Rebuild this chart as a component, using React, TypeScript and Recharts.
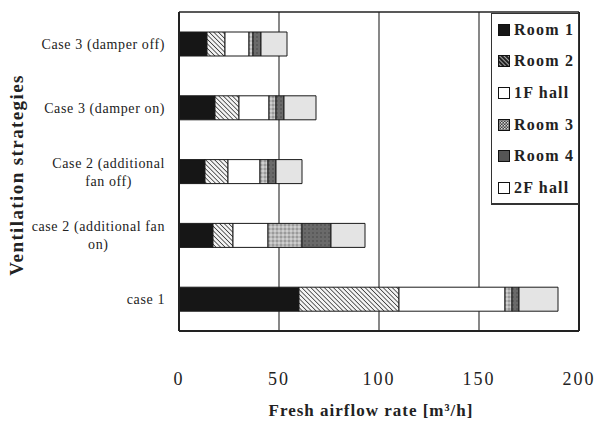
import { BarChart, Bar, XAxis, YAxis, CartesianGrid, Legend } from "recharts";

const categories = [
  ["Case 3 (damper off)"],
  ["Case 3 (damper on)"],
  ["Case 2 (additional", "fan off)"],
  ["case 2 (additional fan", "on)"],
  ["case 1"],
];
const room1 = [14, 18, 13, 17, 60];
const room2 = [9, 12, 11.5, 10, 50];
const hall1F = [12, 15, 16, 17.5, 53];
const room3 = [2, 3.5, 4, 17, 3.5];
const room4 = [4, 4, 4, 14.5, 3.5];
const hall2F = [13, 16, 13, 17, 19.5];
const xTicks = [0, 50, 100, 150, 200];

const SERIES = [
  { key: "room1", name: "Room 1", fill: "#161616" },
  { key: "room2", name: "Room 2", fill: "url(#hatch)" },
  { key: "hall1F", name: "1F hall", fill: "#ffffff" },
  { key: "room3", name: "Room 3", fill: "url(#dots)" },
  { key: "room4", name: "Room 4", fill: "url(#dark)" },
  { key: "hall2F", name: "2F hall", fill: "#e4e4e4" },
];

const data = categories.map((lines, i) => ({
  name: lines.join(" "),
  lines,
  room1: room1[i],
  room2: room2[i],
  hall1F: hall1F[i],
  room3: room3[i],
  room4: room4[i],
  hall2F: hall2F[i],
}));

const FONT = "'Liberation Serif', 'DejaVu Serif', serif";

let ctx: CanvasRenderingContext2D | null = null;
function textWidth(s: string, size: number, spacing: number) {
  if (!ctx) ctx = document.createElement("canvas").getContext("2d");
  if (!ctx) return s.length * size * 0.45;
  ctx.font = `${size}px 'Liberation Serif'`;
  return ctx.measureText(s).width + spacing * s.length;
}

function CategoryTick(props: any) {
  const { x, y, payload } = props;
  const row = data.find((d) => d.name === payload.value);
  const lines = row ? row.lines : [payload.value];
  const right = x - 6;
  if (lines.length === 1) {
    return (
      <text x={right} y={y + 5} textAnchor="end" fontFamily={FONT} fontSize={14} letterSpacing={0.6} fill="#222">
        {lines[0]}
      </text>
    );
  }
  const w = Math.max(...lines.map((l: string) => textWidth(l, 14, 0.6)));
  const cx = right - w / 2;
  return (
    <g>
      {lines.map((l: string, i: number) => (
        <text key={i} x={cx} y={y - 4 + i * 18} textAnchor="middle" fontFamily={FONT} fontSize={14} letterSpacing={0.6} fill="#222">
          {l}
        </text>
      ))}
    </g>
  );
}

function LegendIcon({ fill }: { fill: string }) {
  return (
    <svg width={12} height={12} style={{ marginRight: 4, flex: "none" }}>
      <defs>
        <pattern id="lhatch" width="3" height="3" patternUnits="userSpaceOnUse" patternTransform="rotate(-45)">
          <rect width="3" height="3" fill="#222" />
          <line x1="0" y1="0" x2="0" y2="3" stroke="#fff" strokeWidth="1.2" />
        </pattern>
        <pattern id="ldots" width="3" height="3" patternUnits="userSpaceOnUse">
          <rect width="3" height="3" fill="#444" />
          <rect width="1.5" height="1.5" fill="#ddd" />
          <rect x="1.5" y="1.5" width="1.5" height="1.5" fill="#bbb" />
        </pattern>
      </defs>
      <rect x={0.5} y={0.5} width={11} height={11} fill={fill} stroke="#111" strokeWidth={1} />
    </svg>
  );
}

const LEGEND_FILLS: Record<string, string> = {
  room1: "#161616",
  room2: "url(#lhatch)",
  hall1F: "#fff",
  room3: "url(#ldots)",
  room4: "#555",
  hall2F: "#fff",
};

function LegendBox() {
  return (
    <div
      style={{
        width: 88,
        height: 192,
        border: "1px solid #333",
        borderBottom: "2px solid #333",
        background: "#fff",
        boxSizing: "border-box",
        padding: "0 0 0 6px",
      }}
    >
      {SERIES.map((s) => (
        <div
          key={s.key}
          style={{
            display: "flex",
            alignItems: "center",
            height: 31.6,
            fontFamily: FONT,
            fontSize: 16,
            fontWeight: "bold",
            letterSpacing: 1.2,
            color: "#222",
            whiteSpace: "nowrap",
          }}
        >
          <LegendIcon fill={LEGEND_FILLS[s.key]} />
          {s.name}
        </div>
      ))}
    </div>
  );
}

export default function App() {
  return (
    <div style={{ position: "absolute", left: 0, top: 0, background: "#fff" }}>
      <BarChart
        width={596}
        height={421}
        data={data}
        layout="vertical"
        margin={{ top: 11, right: 16, bottom: 0, left: 0 }}
        barSize={24}
      >
        <defs>
          <pattern id="hatch" width="3.2" height="3.2" patternUnits="userSpaceOnUse" patternTransform="rotate(-45)">
            <rect width="3.2" height="3.2" fill="#f4f4f4" />
            <line x1="0" y1="0" x2="0" y2="3.2" stroke="#333" strokeWidth="1.5" />
          </pattern>
          <pattern id="dots" width="4" height="4" patternUnits="userSpaceOnUse">
            <rect width="4" height="4" fill="#b8b8b8" />
            <rect width="2" height="2" fill="#9a9a9a" />
            <rect x="2" y="2" width="2" height="2" fill="#cfcfcf" />
          </pattern>
          <pattern id="dark" width="4" height="4" patternUnits="userSpaceOnUse">
            <rect width="4" height="4" fill="#6a6a6a" />
            <rect width="2" height="2" fill="#5a5a5a" />
          </pattern>
        </defs>
        <CartesianGrid horizontal={false} stroke="#555" strokeWidth={1.4} />
        <XAxis
          type="number"
          domain={[0, 200]}
          ticks={xTicks}
          tickLine={false}
          axisLine={{ stroke: "#222", strokeWidth: 2 }}
          height={90}
          tickMargin={35}
          tick={{ fontFamily: FONT, fontSize: 18, letterSpacing: 2, fill: "#222" }}
          label={{
            content: () => (
              <text x={371} y={416} textAnchor="middle" fontFamily={FONT} fontSize={17} fontWeight="bold" letterSpacing={1} fill="#222">
                Fresh airflow rate [m³/h]
              </text>
            ),
          }}
        />
        <XAxis xAxisId="top" type="number" domain={[0, 200]} orientation="top" height={1} tick={false} tickLine={false} axisLine={{ stroke: "#222", strokeWidth: 1.5 }} />
        <YAxis
          type="category"
          dataKey="name"
          width={179}
          tickLine={false}
          axisLine={{ stroke: "#222", strokeWidth: 2 }}
          tick={<CategoryTick />}
          interval={0}
          label={{
            content: () => (
              <text
                x={0}
                y={0}
                transform="translate(23,175) rotate(-90)"
                textAnchor="middle"
                fontFamily={FONT}
                fontSize={19}
                fontWeight="bold"
                letterSpacing={1.4}
                fill="#222"
              >
                Ventilation strategies
              </text>
            ),
          }}
        />
        <YAxis yAxisId="right" type="category" dataKey="name" orientation="right" width={1} tick={false} tickLine={false} axisLine={{ stroke: "#222", strokeWidth: 2 }} />
        <Legend
          layout="horizontal"
          align="center"
          verticalAlign="middle"
          wrapperStyle={{ position: "absolute", left: 491, top: 13, width: 88, height: 192 }}
          content={() => <LegendBox />}
        />
        {SERIES.map((s) => (
          <Bar
            key={s.key}
            dataKey={s.key}
            name={s.name}
            stackId="a"
            fill={s.fill}
            stroke="#1a1a1a"
            strokeWidth={1}
            isAnimationActive={false}
          />
        ))}
      </BarChart>
    </div>
  );
}
